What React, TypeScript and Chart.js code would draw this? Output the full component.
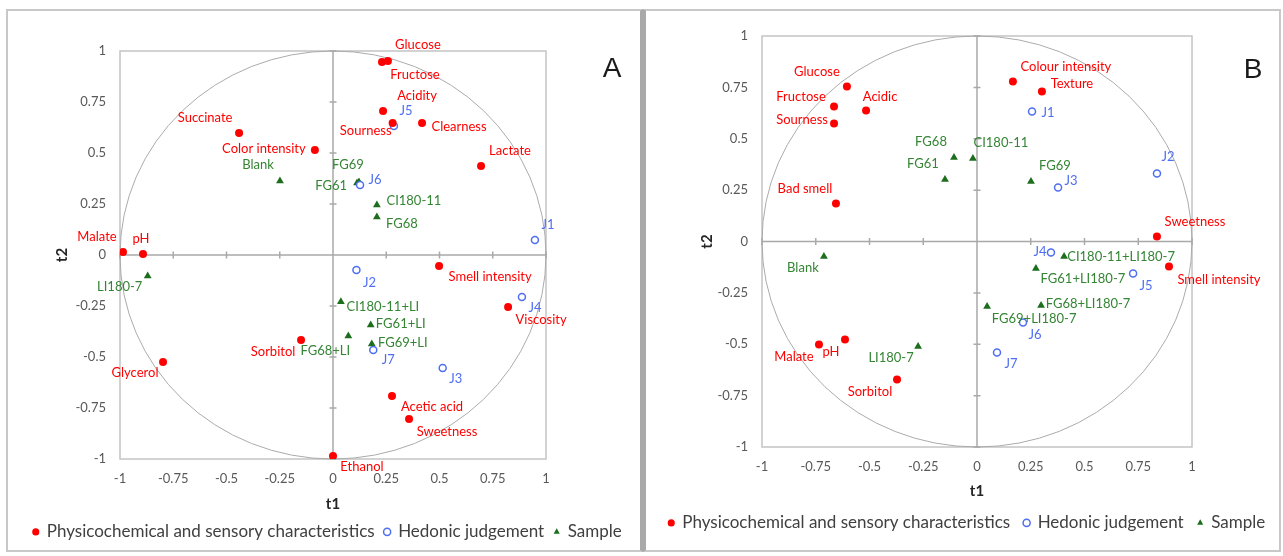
import React, { useEffect, useRef } from 'react';
import { Chart, registerables } from 'chart.js';

Chart.register(...registerables);

// ---------- tick labels ----------
const TICK_VALUES = [-1, -0.75, -0.5, -0.25, 0, 0.25, 0.5, 0.75, 1];

// ---------- legend / series names ----------
const SERIES_NAMES = ['Physicochemical and sensory characteristics', 'Hedonic judgement', 'Sample'];

// ---------- Panel A data ----------
const A_PHYS_NAMES = ['Glucose', 'Fructose', 'Acidity', 'Sourness', 'Clearness', 'Lactate', 'Succinate', 'Color intensity', 'Malate', 'pH', 'Smell intensity', 'Viscosity', 'Sorbitol', 'Glycerol', 'Acetic acid', 'Sweetness', 'Ethanol'];
const A_PHYS_T1 = [0.258, 0.23, 0.235, 0.28, 0.418, 0.695, -0.441, -0.085, -0.986, -0.892, 0.498, 0.822, -0.15, -0.798, 0.277, 0.357, 0.0];
const A_PHYS_T2 = [0.951, 0.946, 0.706, 0.647, 0.647, 0.436, 0.598, 0.515, 0.015, 0.005, -0.054, -0.255, -0.417, -0.525, -0.691, -0.804, -0.985];

const A_HED_NAMES = ['J1', 'J2', 'J3', 'J4', 'J5', 'J6', 'J7'];
const A_HED_T1 = [0.948, 0.11, 0.515, 0.887, 0.286, 0.127, 0.189];
const A_HED_T2 = [0.074, -0.074, -0.554, -0.206, 0.632, 0.343, -0.466];

const A_SAMPLE_NAMES = ['Blank', 'FG61', 'FG69', 'CI180-11', 'FG68', 'LI180-7', 'CI180-11+LI', 'FG61+LI', 'FG68+LI', 'FG69+LI'];
const A_SAMPLE_T1 = [-0.249, 0.113, 0.122, 0.206, 0.206, -0.87, 0.037, 0.177, 0.072, 0.182];
const A_SAMPLE_T2 = [0.363, 0.353, 0.358, 0.245, 0.186, -0.103, -0.229, -0.343, -0.397, -0.436];

// ---------- Panel B data ----------
const B_PHYS_NAMES = ['Glucose', 'Fructose', 'Sourness', 'Acidic', 'Bad smell', 'Colour intensity', 'Texture', 'Sweetness', 'Smell intensity', 'Malate', 'pH', 'Sorbitol'];
const B_PHYS_T1 = [-0.605, -0.665, -0.665, -0.516, -0.656, 0.167, 0.302, 0.837, 0.893, -0.735, -0.614, -0.372];
const B_PHYS_T2 = [0.754, 0.657, 0.574, 0.637, 0.185, 0.779, 0.73, 0.024, -0.122, -0.501, -0.477, -0.672];

const B_HED_NAMES = ['J1', 'J2', 'J3', 'J4', 'J5', 'J6', 'J7'];
const B_HED_T1 = [0.256, 0.837, 0.377, 0.344, 0.726, 0.214, 0.093];
const B_HED_T2 = [0.633, 0.331, 0.263, -0.054, -0.156, -0.394, -0.54];

const B_SAMPLE_NAMES = ['Blank', 'FG68', 'CI180-11', 'FG61', 'FG69', 'LI180-7', 'CI180-11+LI180-7', 'FG61+LI180-7', 'FG68+LI180-7', 'FG69+LI180-7'];
const B_SAMPLE_T1 = [-0.712, -0.107, -0.019, -0.149, 0.251, -0.274, 0.405, 0.274, 0.298, 0.047];
const B_SAMPLE_T2 = [-0.073, 0.409, 0.404, 0.302, 0.292, -0.511, -0.073, -0.131, -0.311, -0.316];

// ---------- label placement (pixel offsets of label centre from its point) ----------
const A_LABEL_OFFSETS: Record<string, [number, number]> = {
  'Glucose': [30, -16], 'Fructose': [33, 13], 'Acidity': [34, -15], 'Sourness': [-27, 8],
  'Clearness': [37, 4], 'Lactate': [29, -15], 'Succinate': [-34, -15], 'Color intensity': [-51, -1],
  'Malate': [-26, -15], 'pH': [-2, -15], 'Smell intensity': [51, 11], 'Viscosity': [33, 13],
  'Sorbitol': [-28, 12], 'Glycerol': [-28, 11], 'Acetic acid': [40, 11], 'Sweetness': [38, 13],
  'Ethanol': [29, 11],
  'J1': [13, -15], 'J2': [13, 13], 'J3': [13, 11], 'J4': [13, 11], 'J5': [12, -15], 'J6': [15, -5], 'J7': [15, 10],
  'Blank': [-22, -16], 'FG61': [-26, 3], 'FG69': [-11, -17], 'CI180-11': [37, -4], 'FG68': [25, 7],
  'LI180-7': [-28, 11], 'CI180-11+LI': [42, 5], 'FG61+LI': [30, -1], 'FG68+LI': [-23, 15], 'FG69+LI': [31, -1],
};
const B_LABEL_OFFSETS: Record<string, [number, number]> = {
  'Glucose': [-30, -15], 'Fructose': [-33, -10], 'Sourness': [-32, -4], 'Acidic': [14, -14],
  'Bad smell': [-31, -15], 'Colour intensity': [53, -15], 'Texture': [30, -8], 'Sweetness': [38, -15],
  'Smell intensity': [50, 13], 'Malate': [-25, 12], 'pH': [-14, 12], 'Sorbitol': [-27, 12],
  'J1': [16, 1], 'J2': [11, -17], 'J3': [13, -7], 'J4': [-11, -1], 'J5': [13, 12], 'J6': [12, 12], 'J7': [14, 11],
  'Blank': [-21, 11], 'FG68': [-23, -16], 'CI180-11': [28, -16], 'FG61': [-22, -16], 'FG69': [24, -16],
  'LI180-7': [-27, 11], 'CI180-11+LI180-7': [57, 0], 'FG61+LI180-7': [47, 10], 'FG68+LI180-7': [47, -2],
  'FG69+LI180-7': [47, 12],
};

const RED = '#ff0000';
const BLUE = '#4f6ef2';
const GREEN_MARK = '#1c6e1c';
const GREEN_TEXT = '#348534';
const FONT = "Lato, 'Open Sans', sans-serif";

type Layout = {
  width: number; left: number;
  padL: number; padR: number; padT: number; padB: number;
  yW: number; y2W: number; xH: number; t2Pad: number; legendPad: number;
  letter: string; letterDx: number; letterDy: number;
};

const LAYOUT_A: Layout = { width: 643, left: 0, padL: 12, padR: 0, padT: 51, padB: 5.6, yW: 108, y2W: 97, xH: 54.4, t2Pad: 41.6, legendPad: 10, letter: 'A', letterDx: 66, letterDy: 18 };
const LAYOUT_B: Layout = { width: 640, left: 643, padL: 8, padR: 0, padT: 36, padB: 14.6, yW: 111, y2W: 91, xH: 53.4, t2Pad: 47.6, legendPad: 14, letter: 'B', letterDx: 61, letterDy: 34 };

function toPoints(xs: number[], ys: number[]) {
  return xs.map((v, i) => ({ x: v, y: ys[i] }));
}

function fmt(v: number) {
  return String(Number(v.toFixed(2)));
}

function makeOverlay(offsets: Record<string, [number, number]>, lay: Layout) {
  return {
    id: 'pcaOverlay',
    beforeDatasetsDraw(chart: any) {
      const { ctx, chartArea: ca, scales } = chart;
      const x = scales.x, y = scales.y;
      ctx.save();
      ctx.strokeStyle = '#c4c4c4';
      ctx.lineWidth = 1.5;
      ctx.strokeRect(ca.left, ca.top, ca.right - ca.left, ca.bottom - ca.top);
      const x0 = x.getPixelForValue(0);
      const y0 = y.getPixelForValue(0);
      ctx.strokeStyle = '#a9a9a9';
      ctx.lineWidth = 1.5;
      ctx.beginPath();
      ctx.moveTo(ca.left, y0); ctx.lineTo(ca.right, y0);
      ctx.moveTo(x0, ca.top); ctx.lineTo(x0, ca.bottom);
      TICK_VALUES.forEach((v) => {
        if (v === 0) return;
        const px = x.getPixelForValue(v);
        ctx.moveTo(px, y0 - 3.5); ctx.lineTo(px, y0 + 3.5);
        const py = y.getPixelForValue(v);
        ctx.moveTo(x0 - 3.5, py); ctx.lineTo(x0 + 3.5, py);
      });
      ctx.stroke();
      ctx.strokeStyle = '#ababab';
      ctx.lineWidth = 1;
      ctx.beginPath();
      ctx.ellipse(x0, y0, x.getPixelForValue(1) - x0, y0 - y.getPixelForValue(1), 0, 0, Math.PI * 2);
      ctx.stroke();
      ctx.restore();
    },
    afterDatasetsDraw(chart: any) {
      const { ctx, chartArea: ca } = chart;
      ctx.save();
      ctx.font = `13px ${FONT}`;
      ctx.textAlign = 'center';
      ctx.textBaseline = 'middle';
      chart.data.datasets.forEach((ds: any, i: number) => {
        const meta = chart.getDatasetMeta(i);
        ctx.fillStyle = ds.labelColor;
        meta.data.forEach((pt: any, j: number) => {
          const name = ds.names[j];
          const off = offsets[name] || [0, -13];
          ctx.fillText(name, pt.x + off[0], pt.y + off[1]);
        });
      });
      ctx.font = `28px 'Liberation Sans', Arial, sans-serif`;
      ctx.fillStyle = '#1a1a1a';
      ctx.fillText(lay.letter, ca.right + lay.letterDx, ca.top + lay.letterDy);
      ctx.restore();
    },
  };
}

function buildChart(canvas: HTMLCanvasElement, lay: Layout, data: {
  physN: string[]; physX: number[]; physY: number[];
  hedN: string[]; hedX: number[]; hedY: number[];
  samN: string[]; samX: number[]; samY: number[];
}, offsets: Record<string, [number, number]>) {
  const tickFont = { family: FONT, size: 13 };
  const setTicks = (s: any) => { s.ticks = TICK_VALUES.map((v) => ({ value: v })); };
  return new Chart(canvas, {
    type: 'scatter',
    data: {
      datasets: [
        {
          label: SERIES_NAMES[0], data: toPoints(data.physX, data.physY), names: data.physN, labelColor: RED,
          pointStyle: 'circle', pointRadius: 4, backgroundColor: RED, borderColor: RED, borderWidth: 0,
        } as any,
        {
          label: SERIES_NAMES[1], data: toPoints(data.hedX, data.hedY), names: data.hedN, labelColor: BLUE,
          pointStyle: 'circle', pointRadius: 3.5, backgroundColor: '#ffffff', borderColor: BLUE, borderWidth: 1.5,
        } as any,
        {
          label: SERIES_NAMES[2], data: toPoints(data.samX, data.samY), names: data.samN, labelColor: GREEN_TEXT,
          pointStyle: 'triangle', pointRadius: 4.5, backgroundColor: GREEN_MARK, borderColor: GREEN_MARK, borderWidth: 0,
        } as any,
      ],
    },
    options: {
      animation: false,
      responsive: false,
      devicePixelRatio: 1,
      events: [],
      layout: { padding: { left: lay.padL, right: lay.padR, top: lay.padT, bottom: lay.padB } },
      scales: {
        x: {
          type: 'linear', position: 'bottom', min: -1, max: 1,
          afterBuildTicks: setTicks,
          ticks: { padding: 12, color: '#595959', font: tickFont, callback: (v: any) => fmt(Number(v)), maxRotation: 0, autoSkip: false },
          grid: { display: false, drawTicks: false },
          border: { display: false },
          title: { display: true, text: 't1', color: '#262626', font: { family: FONT, size: 15, weight: 'bold' }, padding: { top: 0, bottom: 0 } },
          afterFit: (s: any) => { s.height = lay.xH; },
        },
        y: {
          type: 'linear', position: 'left', min: -1, max: 1,
          afterBuildTicks: setTicks,
          ticks: { padding: 14, color: '#595959', font: tickFont, callback: (v: any) => fmt(Number(v)), autoSkip: false },
          grid: { display: false, drawTicks: false },
          border: { display: false },
          title: { display: true, text: 't2', color: '#262626', font: { family: FONT, size: 15, weight: 'bold' }, padding: { top: lay.t2Pad, bottom: 0 } },
          afterFit: (s: any) => { s.width = lay.yW; },
        },
        y2: {
          type: 'linear', position: 'right', min: -1, max: 1,
          ticks: { display: false },
          grid: { display: false, drawTicks: false },
          border: { display: false },
          afterFit: (s: any) => { s.width = lay.y2W; },
        },
      },
      plugins: {
        tooltip: { enabled: false },
        legend: {
          display: true, position: 'bottom',
          labels: { usePointStyle: true, boxWidth: 5, boxHeight: 5, padding: lay.legendPad, color: '#404040', font: { family: FONT, size: 17 } },
        },
      },
    } as any,
    plugins: [makeOverlay(offsets, lay) as any],
  });
}

function Panel({ lay, data, offsets }: { lay: Layout; data: any; offsets: Record<string, [number, number]> }) {
  const ref = useRef<HTMLCanvasElement | null>(null);
  useEffect(() => {
    if (!ref.current) return;
    const chart = buildChart(ref.current, lay, data, offsets);
    return () => chart.destroy();
  }, []);
  return (
    <canvas
      ref={ref}
      width={lay.width}
      height={556}
      style={{ position: 'absolute', left: lay.left, top: 0, width: lay.width, height: 556 }}
    />
  );
}

const DATA_A = {
  physN: A_PHYS_NAMES, physX: A_PHYS_T1, physY: A_PHYS_T2,
  hedN: A_HED_NAMES, hedX: A_HED_T1, hedY: A_HED_T2,
  samN: A_SAMPLE_NAMES, samX: A_SAMPLE_T1, samY: A_SAMPLE_T2,
};
const DATA_B = {
  physN: B_PHYS_NAMES, physX: B_PHYS_T1, physY: B_PHYS_T2,
  hedN: B_HED_NAMES, hedX: B_HED_T1, hedY: B_HED_T2,
  samN: B_SAMPLE_NAMES, samX: B_SAMPLE_T1, samY: B_SAMPLE_T2,
};

export default function App() {
  useEffect(() => {
    document.body.style.margin = '0';
    document.body.style.overflow = 'hidden';
  }, []);
  return (
    <div style={{ position: 'absolute', left: 0, top: 0, width: 1283, height: 556, background: '#ffffff', overflow: 'hidden' }}>
      <div style={{ position: 'absolute', left: 6, top: 9, width: 637, height: 543, boxSizing: 'border-box', border: '2px solid #c8c8c8', borderRight: '3px solid #a9a9a9' }} />
      <div style={{ position: 'absolute', left: 643, top: 9, width: 638, height: 543, boxSizing: 'border-box', border: '2px solid #c8c8c8', borderLeft: '3px solid #a9a9a9' }} />
      <Panel lay={LAYOUT_A} data={DATA_A} offsets={A_LABEL_OFFSETS} />
      <Panel lay={LAYOUT_B} data={DATA_B} offsets={B_LABEL_OFFSETS} />
    </div>
  );
}
